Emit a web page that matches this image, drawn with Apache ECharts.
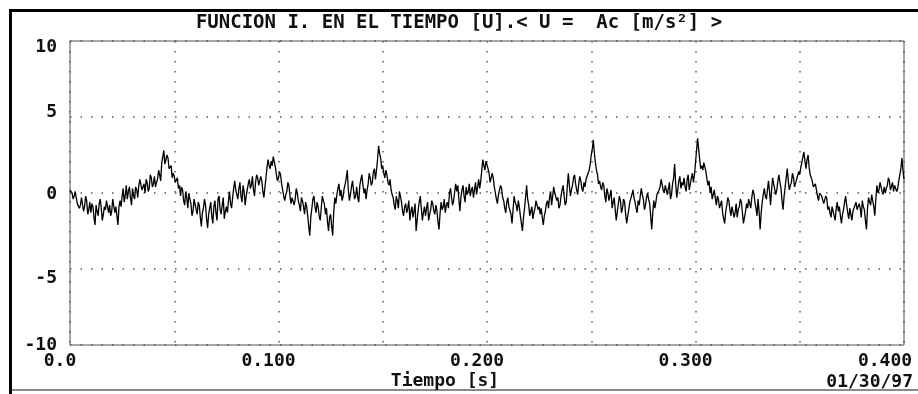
<!DOCTYPE html>
<html>
<head>
<meta charset="utf-8">
<script src="https://cdn.jsdelivr.net/npm/echarts@6/dist/echarts.min.js"></script>
<style>
  html, body { margin: 0; padding: 0; background: #fff; }
  #chart { width: 918px; height: 394px; }
</style>
</head>
<body>
<div id="chart"></div>
<script>
// Acceleration record, sampled every 0.5 ms (t = 0 ... 0.400 s)
const dt = 0.0005;
const aceleracion = [
  0.2, 0.3, 0.0, -0.4, -0.2, 0.1, -0.3, -0.7, -0.6, -1.0, -0.8, -0.3, -0.4, -1.2, -0.9, -0.2, -0.5, -1.4, -1.1,
  -0.6, -1.3, -0.7, -0.9, -1.6, -2.1, -0.8, -1.2, -1.5, -0.7, -0.4, -1.0, -1.8, -1.4, -0.9, -1.1, -0.5, -0.6, -1.3, -0.8,
  -1.5, -1.2, -0.4, -0.5, -1.3, -0.9, -1.5, -2.1, -0.9, -0.5, -0.9, -0.2, 0.3, -0.6, -0.2, 0.5, -0.4, 0.1, 0.4, -0.3,
  -0.8, 0.3, -0.2, -0.4, 0.4, 0.2, -0.3, 0.5, 0.9, 0.8, 0.2, 0.1, 0.6, 0.0, 0.9, 0.7, 0.1, 0.3, 1.2, 1.0,
  0.4, 0.6, 1.1, 0.4, 0.7, 0.9, 1.5, 1.2, 0.8, 2.0, 2.4, 2.8, 1.9, 2.0, 2.5, 2.3, 1.6, 1.5, 1.8, 1.0,
  1.3, 1.1, 0.7, 0.8, 1.0, 0.3, 0.5, -0.2, 0.4, 0.2, -0.5, -0.8, 0.1, -0.3, -1.0, 0.0, -0.4, -0.7, -1.5, -1.2,
  -0.4, -0.5, -1.1, -1.4, -0.6, -0.8, -1.6, -2.2, -1.3, -1.0, -0.4, -0.8, -1.7, -2.3, -1.4, -1.0, -0.6, -1.5, -2.0, -0.9,
  -0.5, -1.3, -1.8, -0.4, -0.2, -1.1, -1.4, -0.8, -0.3, -1.7, -1.2, -0.9, -1.3, -0.5, 0.1, -0.7, -1.0, -0.3, 0.3, 0.8,
  0.2, 0.1, -0.4, 0.3, 0.7, -0.2, -0.6, 0.5, 0.1, -0.8, -0.2, 0.2, 0.6, 0.9, 0.3, 0.5, 1.1, 0.2, -0.2, 0.7,
  1.2, 1.0, 0.5, 0.4, 1.1, 0.8, 0.1, -0.3, 0.4, 1.0, 1.7, 2.2, 1.8, 1.6, 2.1, 1.8, 2.4, 2.3, 1.7, 1.2,
  0.8, 1.0, 1.4, 1.2, 0.6, 0.2, -0.2, -0.5, -0.1, 0.1, 0.7, 0.5, -0.2, -0.7, -0.3, -0.2, -0.8, -0.4, 0.3, 0.0,
  -0.5, -0.8, -1.2, -0.3, -0.5, -0.9, -1.4, -0.6, -0.9, -1.5, -2.2, -2.8, -1.6, -1.0, -0.4, -0.2, -0.9, -1.3, -0.6, -0.9,
  -1.5, -1.8, -1.0, -0.2, -0.5, -0.7, -1.4, -1.0, -1.9, -2.5, -1.6, -1.4, -2.2, -2.8, -1.2, -0.3, -0.7, -0.1, 0.3, 0.6,
  -0.2, 0.2, -0.5, -0.2, 0.3, 0.6, 1.0, 1.5, 0.2, -0.5, -0.1, 0.4, 0.8, 0.2, -0.4, -0.2, 0.4, -0.3, -0.6, 0.5,
  0.9, 1.2, 0.5, 0.0, 0.3, -0.4, 0.2, 0.6, 1.3, 1.0, 0.5, 0.7, 1.4, 1.6, 0.9, 1.5, 2.2, 3.1, 2.6, 2.3,
  1.6, 1.8, 1.3, 1.0, 1.5, 1.2, 0.7, 0.5, 0.9, 0.2, -0.1, -0.3, -0.8, -1.1, -0.2, -0.5, -1.0, 0.1, -0.2, -0.6,
  -1.2, -1.5, -0.9, -0.7, -1.3, -1.0, -0.5, -1.8, -1.2, -0.9, -1.6, -1.2, -0.7, -2.5, -1.8, -1.1, -0.6, -0.2, -1.0, -1.8,
  -1.3, -0.9, -1.5, -1.0, -0.6, -1.8, -1.4, -1.1, -0.5, -0.7, -1.2, -1.4, -0.8, -1.2, -1.9, -2.4, -1.3, -0.6, -1.1, -0.9,
  -0.4, -1.3, -0.8, -0.6, -1.0, 0.0, 0.3, -0.3, -0.8, -0.5, 0.1, 0.6, 0.1, 0.5, -0.4, -1.2, -0.3, 0.2, 0.5, -0.2,
  -0.6, 0.4, -0.1, 0.1, 0.6, -0.2, 0.2, 0.4, -0.3, 0.2, 0.7, -0.1, 0.4, 0.9, 0.3, 0.8, 1.5, 2.2, 1.8, 1.5,
  2.1, 2.0, 1.6, 1.3, 0.7, 0.8, 1.3, 1.0, 0.4, 0.0, -0.4, -0.7, -0.1, -0.2, 0.5, 0.3, -0.3, -0.5, -1.0, -1.3,
  -0.6, -0.3, -0.9, -0.8, -1.4, -2.0, -1.1, -0.2, -0.6, -0.8, -1.2, -0.5, -0.9, -1.5, -2.0, -2.5, -1.6, -1.0, -0.3, 0.5,
  -0.4, -0.8, -1.5, -1.2, -0.9, -1.7, -1.3, -1.0, -0.5, -0.4, -1.1, -0.9, -1.4, -1.0, -1.6, -2.1, -1.5, -1.2, -0.7, -0.5,
  -1.0, -0.3, 0.1, -0.8, -0.2, 0.4, 0.0, 0.1, -0.5, -0.3, -1.0, -0.8, -0.2, 0.2, 0.5, -0.2, -0.8, -0.6, 0.4, 1.3,
  0.5, -0.2, 0.2, 0.5, 1.0, 1.2, 0.6, 0.2, -0.1, 0.6, 1.1, 0.8, 0.3, 0.1, 0.7, 0.4, 0.9, 0.9, 1.3, 1.5,
  1.9, 2.5, 2.9, 3.5, 2.6, 2.0, 1.5, 1.2, 0.6, 0.8, 0.4, 0.2, 0.7, 0.5, -0.2, -0.6, 0.3, 0.0, -0.5, -0.4,
  0.2, -1.0, -0.6, -0.3, -1.1, -1.8, -1.2, -0.7, -0.2, -0.5, -1.3, -1.0, -0.4, -0.6, -1.4, -2.0, -1.5, -1.1, -0.6, -0.5,
  -0.1, 0.2, -0.3, -0.6, -1.0, -1.3, -0.5, -0.8, -0.2, 0.3, -0.1, -0.4, -1.1, -0.8, -0.3, 0.0, -0.4, -0.7, -1.5, -2.4,
  -1.3, -0.5, -1.0, -0.6, -0.1, -0.2, 0.2, 0.4, 0.9, 0.8, 0.2, 0.0, 0.5, 0.4, -0.1, 0.3, 0.7, -0.4, -0.1, 0.6,
  1.0, 1.9, 0.6, -0.3, 0.2, 0.8, 1.1, 0.3, 0.7, 0.5, 1.0, 0.4, 0.1, 0.9, 1.2, 0.2, 0.6, 1.0, 1.3, 0.7,
  1.2, 2.0, 2.8, 3.6, 2.9, 2.2, 1.6, 1.8, 1.5, 2.0, 1.7, 1.4, 0.9, 0.5, 0.8, 0.0, 0.4, -0.4, -0.1, 0.2,
  -0.3, -0.8, -0.2, -0.4, -1.0, -0.9, -0.5, -1.3, -1.7, -2.0, -1.2, -0.8, -0.3, -0.5, -1.1, -1.5, -0.9, -1.0, -1.6, -1.3,
  -0.7, -1.6, -1.1, -0.9, -0.4, -0.6, -1.3, -2.0, -1.6, -1.2, -0.7, -1.0, -0.4, -0.5, -1.0, -0.3, 0.2, 0.0, -0.6, -1.0,
  -1.5, -0.4, -1.2, -2.4, -1.3, -0.6, -0.1, 0.3, -0.2, -0.4, 0.2, 0.8, 0.1, -0.8, 0.2, 1.0, 0.6, 0.5, -0.1, 0.2,
  0.8, 1.2, 0.7, 0.3, -0.5, -1.1, -0.2, 0.4, 1.0, 1.6, 0.8, 0.2, 0.5, 0.7, 1.3, 1.0, 0.4, 0.3, 0.9, 0.8,
  1.4, 1.2, 1.7, 2.0, 2.4, 2.7, 2.1, 1.6, 2.2, 2.5, 1.7, 1.2, 1.0, 0.8, 0.4, 0.3, 0.6, 0.2, -0.2, -0.5,
  0.0, 0.1, -0.2, -0.3, -0.7, -0.8, -0.2, -0.4, -1.1, -0.9, -1.3, -1.6, -0.9, -1.2, -1.5, -1.8, -1.0, -0.6, -1.2, -0.9,
  -1.5, -2.0, -1.4, -1.1, -0.6, -0.2, -0.8, -1.3, -1.7, -1.0, -1.4, -1.8, -1.2, -1.3, -0.8, -0.6, -1.1, -1.2, -0.7, -1.0,
  -1.6, -0.5, -0.9, -1.1, -1.8, -2.4, -1.0, -0.3, -0.6, -0.8, -0.1, -0.2, -0.9, -1.5, -0.4, 0.5, 0.0, 0.2, 0.7, 0.6,
  0.1, -0.1, 0.4, 0.0, 0.3, 0.5, 1.0, 0.8, 0.2, 0.3, 0.7, 0.1, 0.5, 0.6, 0.1, 0.3, 0.8, 0.9, 1.6, 2.3,
  1.5, 0.9
];

// Axis text
const xTickLabels = ['0.0', '0.100', '0.200', '0.300', '0.400'];
const yTickLabels = ['-10', '-5', '0', '5', '10'];
const tituloGrafico = 'FUNCION I. EN EL TIEMPO [U].< U =  Ac [m/s\u00B2] >';
const nombreEjeX = 'Tiempo [s]';
const fecha = '01/30/97';

const FONT = "'DejaVu Sans Mono', 'Liberation Mono', monospace";
const INK = '#111';

const serie = aceleracion.map((v, i) => [+(i * dt).toFixed(4), v]);

const baseText = { fontFamily: FONT, fontWeight: 'bold', fontSize: 18, color: INK };

const chart = echarts.init(document.getElementById('chart'));
chart.setOption({
  backgroundColor: '#ffffff',
  animation: false,
  title: [
    {
      text: tituloGrafico,
      left: 'center',
      top: 14,
      padding: 0,
      textStyle: Object.assign({}, baseText, { fontSize: 19 })
    },
    {
      text: fecha,
      right: 5,
      top: 373,
      padding: 0,
      textStyle: baseText
    }
  ],
  graphic: [
    // outer frame: heavy rules top and left, light rule at the bottom
    { type: 'rect', silent: true, shape: { x: 9, y: 9, width: 909, height: 3 }, style: { fill: '#000' } },
    { type: 'rect', silent: true, shape: { x: 9, y: 9, width: 3, height: 385 }, style: { fill: '#000' } },
    { type: 'rect', silent: true, shape: { x: 12, y: 389, width: 906, height: 2 }, style: { fill: '#8a8a8a' } }
  ],
  grid: {
    left: 70,
    right: 14,
    top: 41,
    bottom: 49,
    outerBoundsMode: 'none',
    containLabel: false,
    show: true,
    borderColor: '#555',
    borderWidth: 1,
    backgroundColor: 'transparent'
  },
  xAxis: {
    type: 'value',
    min: 0,
    max: 0.4,
    interval: 0.05,
    name: nombreEjeX,
    nameLocation: 'middle',
    nameGap: 27,
    nameMoveOverlap: false,
    nameTextStyle: Object.assign({}, baseText, { padding: [0, 84, 0, 0] }),
    axisLine: { show: false },
    axisTick: { show: false },
    axisLabel: {
      margin: 7,
      showMinLabel: true,
      showMaxLabel: true,
      hideOverlap: false,
      formatter: function (v) {
        const k = Math.round(v / 0.1);
        if (Math.abs(v - k * 0.1) > 1e-6) return '';
        return '{' + (k === 4 ? 'e' : 't') + '|' + xTickLabels[k] + '}';
      },
      rich: {
        t: Object.assign({}, baseText, { padding: [0, 20, 0, 0] }),
        e: Object.assign({}, baseText, { padding: [0, 38, 0, 0] })
      }
    },
    splitLine: {
      show: true,
      lineStyle: { color: '#555', width: 1.5, type: [1.5, 8.5] }
    }
  },
  yAxis: {
    type: 'value',
    min: -10,
    max: 10,
    interval: 5,
    axisLine: { show: false },
    axisTick: { show: false },
    axisLabel: {
      margin: 13,
      formatter: function (v) {
        const i = Math.round((v + 10) / 5);
        const styles = ['m10', 'm5', 'z', 'p5', 'p10'];
        return '{' + styles[i] + '|' + yTickLabels[i] + '}';
      },
      rich: {
        p10: Object.assign({}, baseText, { padding: [12, 0, 0, 0] }),
        p5: Object.assign({}, baseText, { padding: [0, 0, 10, 0] }),
        z: Object.assign({}, baseText, { padding: [3, 0, 0, 0] }),
        m5: Object.assign({}, baseText, { padding: [19, 0, 0, 0] }),
        m10: Object.assign({}, baseText, { padding: [0, 0, 0, 0] })
      }
    },
    splitLine: {
      show: true,
      lineStyle: { color: '#555', width: 1.5, type: [1.5, 9] }
    }
  },
  series: [
    {
      type: 'line',
      data: serie,
      showSymbol: false,
      symbol: 'none',
      lineStyle: { color: '#000', width: 1.3 },
      z: 5
    }
  ]
});
</script>
</body>
</html>
